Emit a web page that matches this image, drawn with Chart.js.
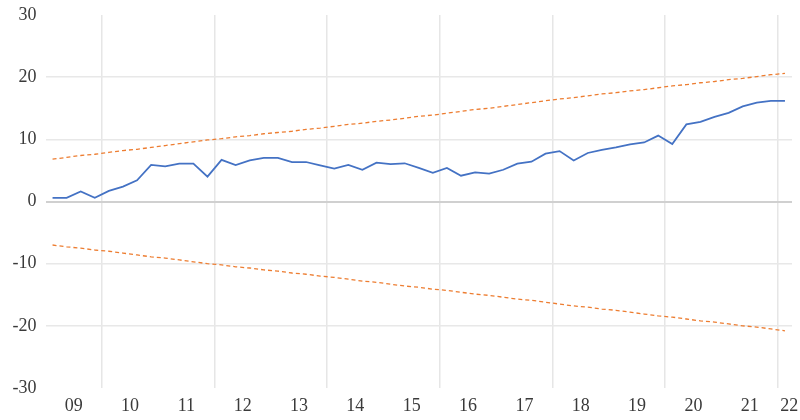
<!DOCTYPE html>
<html>
<head>
<meta charset="utf-8">
<script src="https://cdn.jsdelivr.net/npm/chart.js@4/dist/chart.umd.min.js"></script>
<style>
html,body{margin:0;padding:0;background:#fff;}
#wrap{width:800px;height:420px;position:relative;}
</style>
</head>
<body>
<div id="wrap"><canvas id="c" width="800" height="420"></canvas></div>
<script>
// Quarterly observations, 2009Q1 .. 2022Q1
const quarters = [];
for (let y = 2009; y <= 2022; y++) {
  for (let q = 1; q <= 4; q++) {
    if (y === 2022 && q > 1) break;
    quarters.push(y + 'Q' + q);
  }
}

const seriesValues = [
  0.6, 0.6, 1.6, 0.6, 1.7, 2.4, 3.4, 5.9, 5.65, 6.1,
  6.1, 4.0, 6.7, 5.85, 6.6, 7.0, 7.0, 6.35, 6.35, 5.8,
  5.3, 5.9, 5.1, 6.25, 6.0, 6.15, 5.4, 4.6, 5.4, 4.15,
  4.7, 4.5, 5.1, 6.1, 6.4, 7.7, 8.1, 6.6, 7.8, 8.3,
  8.7, 9.2, 9.5, 10.6, 9.25, 12.4, 12.8, 13.6, 14.25, 15.3,
  15.9, 16.2, 16.2
];

const upperBand = [
  6.8, 7.1, 7.4, 7.6, 7.9, 8.2, 8.4, 8.7, 9.0, 9.3,
  9.6, 9.9, 10.1, 10.4, 10.6, 10.9, 11.1, 11.3, 11.6, 11.8,
  12.1, 12.4, 12.6, 12.9, 13.1, 13.4, 13.7, 13.9, 14.2, 14.5,
  14.8, 15.0, 15.3, 15.6, 15.9, 16.2, 16.5, 16.7, 17.0, 17.3,
  17.5, 17.8, 18.0, 18.3, 18.6, 18.8, 19.1, 19.3, 19.6, 19.8,
  20.1, 20.4, 20.6
];

const lowerBand = [
  -7.0, -7.3, -7.5, -7.8, -8.0, -8.3, -8.6, -8.9, -9.1, -9.4,
  -9.7, -10.0, -10.2, -10.5, -10.7, -11.0, -11.2, -11.5, -11.7, -12.0,
  -12.2, -12.5, -12.8, -13.0, -13.3, -13.6, -13.8, -14.1, -14.3, -14.6,
  -14.9, -15.1, -15.4, -15.7, -15.9, -16.2, -16.5, -16.8, -17.0, -17.3,
  -17.5, -17.8, -18.1, -18.4, -18.6, -18.9, -19.2, -19.4, -19.7, -20.0,
  -20.2, -20.5, -20.8
];

const yearLabels = ['09','10','11','12','13','14','15','16','17','18','19','20','21','22'];
const yTicks = [-30, -20, -10, 0, 10, 20, 30];

const toXY = arr => arr.map((v, i) => ({x: i, y: v}));

// tick positions on the quarter-index axis
const labelPos = yearLabels.map((l, k) => k < yearLabels.length - 1 ? 4 * k + 1.5 : 4 * k + 0.3);
const gridPos = [];
for (let k = 1; k < yearLabels.length; k += 2) gridPos.push(4 * k - 0.5);

const labelMap = new Map(labelPos.map((p, k) => [p, yearLabels[k]]));
const gridSet = new Set(gridPos);

const fontSpec = {family: '"Liberation Serif", "Times New Roman", serif', size: 18};

new Chart(document.getElementById('c'), {
  type: 'line',
  data: {
    datasets: [
      {
        label: 'Series',
        data: toXY(seriesValues),
        borderColor: '#4472C4',
        borderWidth: 1.75,
        pointRadius: 0,
        tension: 0
      },
      {
        label: 'Upper',
        data: toXY(upperBand),
        borderColor: '#ED7D31',
        borderWidth: 1.3,
        borderDash: [4, 3],
        pointRadius: 0,
        tension: 0
      },
      {
        label: 'Lower',
        data: toXY(lowerBand),
        borderColor: '#ED7D31',
        borderWidth: 1.3,
        borderDash: [4, 3],
        pointRadius: 0,
        tension: 0
      }
    ]
  },
  options: {
    responsive: false,
    animation: false,
    layout: {padding: {top: 15, right: 8, left: 0, bottom: 0}},
    plugins: {legend: {display: false}, tooltip: {enabled: false}},
    scales: {
      x: {
        type: 'linear',
        min: -0.5,
        max: quarters.length - 0.5,
        afterBuildTicks: s => {
          const all = [...gridPos, ...labelPos].sort((a, b) => a - b);
          s.ticks = all.map(v => ({value: v}));
        },
        afterFit: s => { s.height = 32; s.paddingLeft = 0; s.paddingRight = 0; },
        border: {display: false},
        grid: {
          drawTicks: false,
          color: c => (c.tick && gridSet.has(c.tick.value)) ? '#e6e6e6' : 'rgba(0,0,0,0)',
          lineWidth: 1.5
        },
        ticks: {
          autoSkip: false,
          maxRotation: 0,
          padding: 7,
          color: '#3a3a3a',
          font: fontSpec,
          callback: v => labelMap.has(v) ? labelMap.get(v) : ''
        }
      },
      y: {
        min: -30,
        max: 30,
        afterBuildTicks: s => { s.ticks = yTicks.map(v => ({value: v})); },
        afterFit: s => { s.width = 45.5; s.paddingTop = 0; s.paddingBottom = 0; },
        border: {display: false},
        grid: {
          drawTicks: false,
          color: c => {
            const v = c.tick ? c.tick.value : null;
            if (v === 0) return '#d0d0d0';
            if (v === 30 || v === -30) return 'rgba(0,0,0,0)';
            return '#e8e8e8';
          },
          lineWidth: c => (c.tick && c.tick.value === 0) ? 2 : 1.5
        },
        ticks: {
          padding: 9,
          color: '#3a3a3a',
          font: fontSpec
        }
      }
    }
  }
});
</script>
</body>
</html>
